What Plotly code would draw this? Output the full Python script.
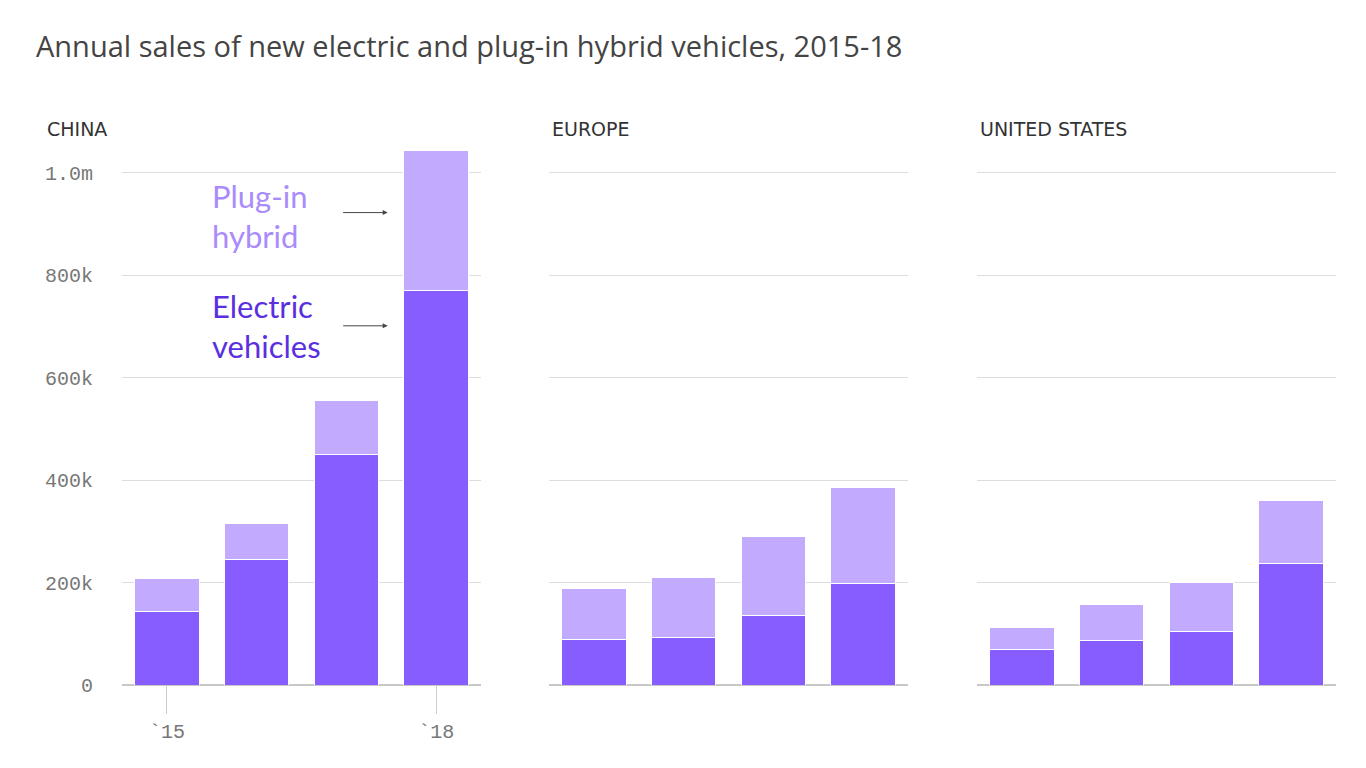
import plotly.graph_objects as go

years = [2015, 2016, 2017, 2018]
regions = ["CHINA", "EUROPE", "UNITED STATES"]
ev_china = [143000, 244000, 449000, 770000]
phev_china = [64000, 72000, 106000, 273000]
ev_europe = [88000, 92000, 135000, 199000]
phev_europe = [100000, 117000, 154000, 186000]
ev_us = [70000, 86000, 104000, 238000]
phev_us = [43000, 72000, 97000, 123000]

y_tickvals = [0, 200000, 400000, 600000, 800000, 1000000]
y_ticktext = ["0", "200k", "400k", "600k", "800k", "1.0m"]
x_tickvals = [2015, 2018]
x_ticktext = ["`15", "`18"]

EV_COLOR = "#875dff"
PHEV_COLOR = "#c2abff"

W, H = 1366, 768
OFF = 8  # page body margin
def px(v):
    return (v - OFF) / W

domains = [(px(122), px(481)), (px(549), px(908)), (px(977), px(1336))]

data = [(ev_china, phev_china), (ev_europe, phev_europe), (ev_us, phev_us)]

fig = go.Figure()
for i, (ev, phev) in enumerate(data):
    xa = "x" if i == 0 else f"x{i+1}"
    ya = "y" if i == 0 else f"y{i+1}"
    fig.add_trace(go.Bar(x=years, y=ev, xaxis=xa, yaxis=ya, marker=dict(color=EV_COLOR, line=dict(color="white", width=1)),
                         name="Electric vehicles", showlegend=False, hoverinfo="skip"))
    fig.add_trace(go.Bar(x=years, y=phev, xaxis=xa, yaxis=ya, marker=dict(color=PHEV_COLOR, line=dict(color="white", width=1)),
                         name="Plug-in hybrid", showlegend=False, hoverinfo="skip"))

tick_font = dict(family="Liberation Mono, Courier New, monospace", size=20, color="#777777")
BOTTOM = 685 - OFF
layout = dict(
    width=W, height=H,
    barmode="stack", bargap=0.28,
    plot_bgcolor="white", paper_bgcolor="white",
    margin=dict(l=0, r=0, t=139, b=H - BOTTOM),
    title=dict(text="Annual sales of new electric and plug-in hybrid vehicles, 2015-18",
               x=(36 - OFF) / W, xanchor="left", y=1 - (47 - OFF) / H, yanchor="middle",
               font=dict(family="Open Sans, Noto Sans, sans-serif", size=29, weight=500, color="#444444")),
)
for i in range(3):
    sx = "" if i == 0 else str(i + 1)
    layout["xaxis" + sx] = dict(
        domain=list(domains[i]), range=[2014.5, 2018.5], anchor="y" + sx,
        tickvals=x_tickvals if i == 0 else [], ticktext=x_ticktext if i == 0 else [],
        ticks="outside" if i == 0 else "", ticklen=28, tickcolor="#cccccc", tickwidth=1,
        tickfont=tick_font, showgrid=False, zeroline=False, showline=False, fixedrange=True,
    )
    layout["yaxis" + sx] = dict(
        range=[0, 1050000], anchor="x" + sx,
        tickvals=y_tickvals, ticktext=y_ticktext if i == 0 else [""] * len(y_tickvals),
        showticklabels=(i == 0), tickfont=tick_font, ticklabelstandoff=28,
        showgrid=True, gridcolor="#dddddd", gridwidth=1,
        zeroline=True, zerolinecolor="#c8c8c8", zerolinewidth=2, showline=False, fixedrange=True,
    )
fig.update_layout(**layout)

plot_h = H - 139 - (H - BOTTOM)
panel_x = [45, 550, 978]
for i, name in enumerate(regions):
    fig.add_annotation(text=name, xref="paper", yref="paper", x=px(panel_x[i]), y=(685 - 129) / plot_h,
                       xanchor="left", yanchor="middle", showarrow=False,
                       font=dict(family="DejaVu Sans, Inter, sans-serif", size=19, color="#333333"))

ann_font = "Lato, Noto Sans, sans-serif"
fig.add_annotation(text="Plug-in<br>hybrid", xref="x", yref="y", x=2015.48, y=916000,
                   xanchor="left", yanchor="middle", align="left", showarrow=False,
                   font=dict(family=ann_font, size=31, color="#a98bfb"))
fig.add_annotation(text="Electric<br>vehicles", xref="x", yref="y", x=2015.48, y=701000,
                   xanchor="left", yanchor="middle", align="left", showarrow=False,
                   font=dict(family=ann_font, size=31, color="#5a2fe0"))
for yv in [922000, 701000]:
    fig.add_annotation(text="", xref="x", yref="y", x=2017.46, y=yv, ax=-46, ay=0,
                       axref="pixel", ayref="pixel", showarrow=True, arrowhead=2,
                       arrowsize=1, arrowwidth=1, arrowcolor="#444444")

fig.write_html("out.html")
